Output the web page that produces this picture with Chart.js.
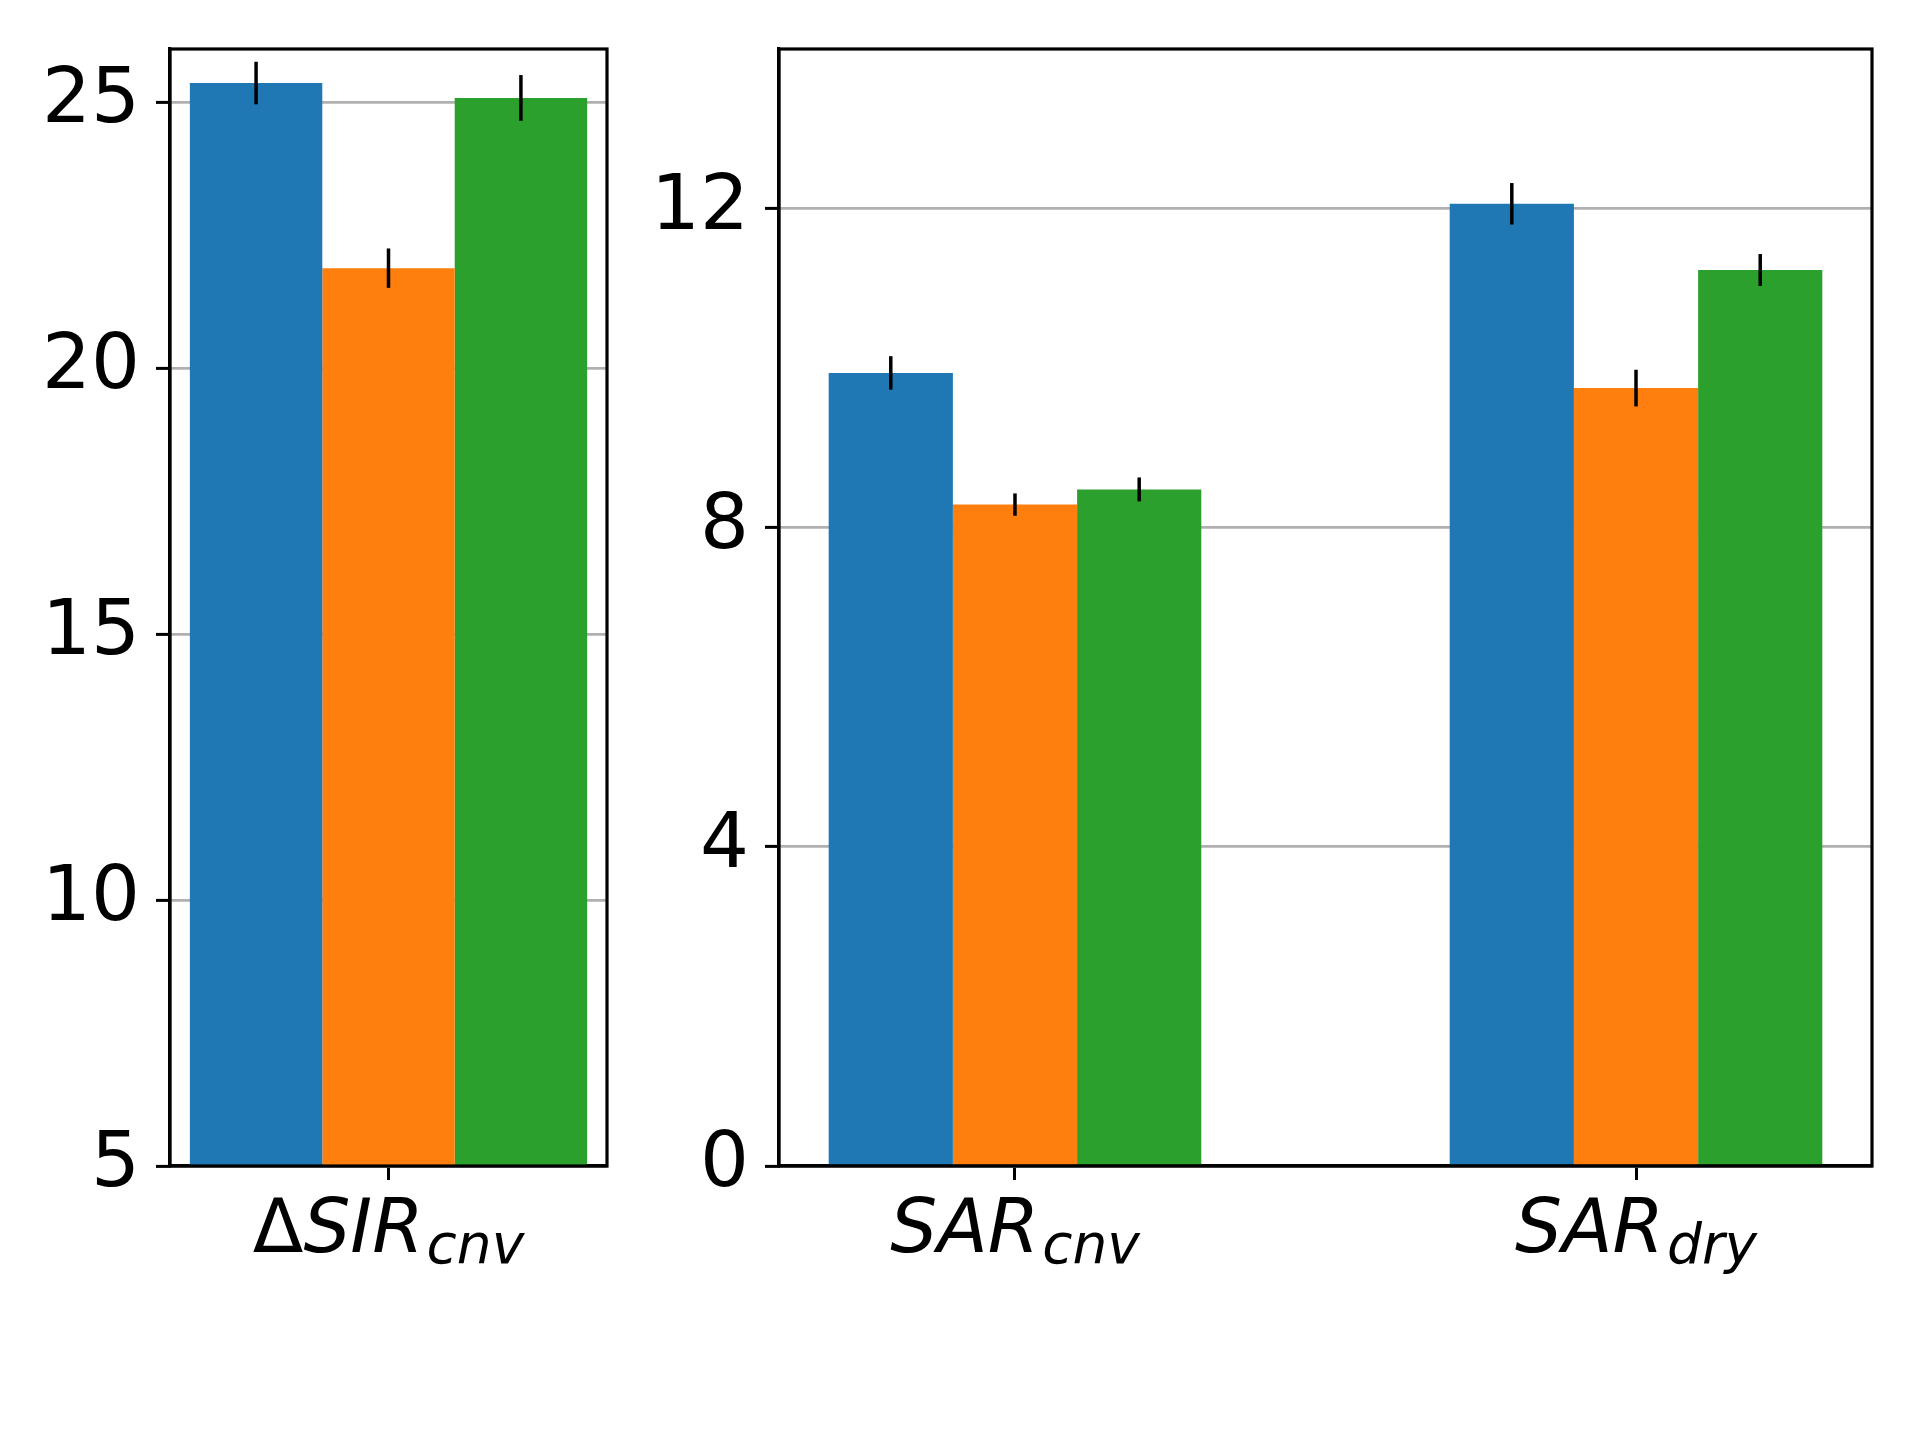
<!DOCTYPE html>
<html>
<head>
<meta charset="utf-8">
<script src="https://cdn.jsdelivr.net/npm/chart.js@4.4.1/dist/chart.umd.min.js"></script>
<style>
    html, body { margin: 0; padding: 0; background: #fff; }
    #wrap { position: relative; width: 1920px; height: 1440px; }
    .box { position: absolute; top: 0; height: 1440px; }
</style>
</head>
<body>
<div id="wrap">
    <div class="box" style="left:0; width:620px;"><canvas id="sirChart"></canvas></div>
    <div class="box" style="left:620px; width:1300px;"><canvas id="sarChart"></canvas></div>
</div>
<script>
// series (the picture has no legend, so the names are placeholders)
const seriesNames = ['Model 1', 'Model 2', 'Model 3'];
const seriesColors = ['#1f77b4', '#ff7f0e', '#2ca02c'];

// left panel: delta SIR
const sirLabelMain = ['ΔSIR'];
const sirLabelSub = ['cnv'];
const sirBlue = [25.36];
const sirOrange = [21.88];
const sirGreen = [25.08];
const sirBlueErr = [0.40];
const sirOrangeErr = [0.37];
const sirGreenErr = [0.43];
const sirTicks = [5, 10, 15, 20, 25];

// right panel: SAR
const sarLabelMain = ['SAR', 'SAR'];
const sarLabelSub = ['cnv', 'dry'];
const sarBlue = [9.94, 12.06];
const sarOrange = [8.29, 9.75];
const sarGreen = [8.48, 11.23];
const sarBlueErr = [0.21, 0.26];
const sarOrangeErr = [0.14, 0.23];
const sarGreenErr = [0.15, 0.20];
const sarTicks = [0, 4, 8, 12];

// error bars + frame, drawn on top of everything
const errorBarPlugin = {
    id: 'errorBars',
    afterDraw(chart) {
        const ctx = chart.ctx;
        const yScale = chart.scales.y;
        ctx.save();
        ctx.strokeStyle = '#000';
        ctx.lineWidth = 3.5;
        chart.data.datasets.forEach((ds, di) => {
            const meta = chart.getDatasetMeta(di);
            meta.data.forEach((bar, i) => {
                const v = ds.data[i].y;
                const e = ds.errors[i];
                ctx.beginPath();
                ctx.moveTo(bar.x, yScale.getPixelForValue(v - e));
                ctx.lineTo(bar.x, yScale.getPixelForValue(v + e));
                ctx.stroke();
            });
        });
        const a = chart.chartArea;
        ctx.lineWidth = 3.2;
        ctx.strokeRect(a.left, a.top, a.right - a.left, a.bottom - a.top);
        ctx.restore();
    }
};

// category labels with italic main part and a subscript
const mathLabelPlugin = {
    id: 'mathLabels',
    afterDraw(chart, args, opts) {
        const ctx = chart.ctx;
        const xScale = chart.scales.x;
        const baseY = chart.chartArea.bottom + 86;
        const upright = '74px "DejaVu Sans"';
        const italic = 'italic 74px "DejaVu Sans"';
        const subFont = 'italic 55px "DejaVu Sans"';
        ctx.save();
        ctx.fillStyle = '#000';
        ctx.textBaseline = 'alphabetic';
        ctx.textAlign = 'left';
        opts.main.forEach((main, i) => {
            let pre = '';
            let body = main;
            if (main.startsWith('Δ')) { pre = 'Δ'; body = main.slice(1); }
            ctx.font = upright;
            const wPre = ctx.measureText(pre).width;
            ctx.font = italic;
            const wBody = ctx.measureText(body).width;
            ctx.font = subFont;
            const wSub = ctx.measureText(opts.sub[i]).width;
            const total = wPre + wBody + 3 + wSub;
            let x = xScale.getPixelForValue(i) - total / 2;
            ctx.font = upright;
            ctx.fillText(pre, x, baseY);
            x += wPre;
            ctx.font = italic;
            ctx.fillText(body, x, baseY);
            x += wBody + 3;
            ctx.font = subFont;
            ctx.fillText(opts.sub[i], x, baseY + 11);
        });
        ctx.restore();
    }
};

function makeDatasets(values, errors, groupPct) {
    return values.map((vals, s) => ({
        label: seriesNames[s],
        data: vals.map((v, i) => ({ x: i, y: v })),
        errors: errors[s],
        backgroundColor: seriesColors[s],
        borderWidth: 0,
        categoryPercentage: groupPct,
        barPercentage: 1
    }));
}

function makePanel(canvasId, cfg) {
    return new Chart(document.getElementById(canvasId), {
        type: 'bar',
        data: { datasets: makeDatasets(cfg.values, cfg.errors, cfg.groupPct) },
        options: {
            responsive: true,
            maintainAspectRatio: false,
            animation: false,
            layout: { padding: { top: 49, right: cfg.padRight, left: 0, bottom: 0 } },
            plugins: {
                legend: { display: false },
                tooltip: { enabled: false },
                mathLabels: { main: cfg.labelMain, sub: cfg.labelSub }
            },
            scales: {
                x: {
                    type: 'linear',
                    min: cfg.xMin,
                    max: cfg.xMax,
                    offset: false,
                    afterBuildTicks: s => { s.ticks = cfg.labelMain.map((_, i) => ({ value: i })); },
                    afterFit: s => { s.height = 274; },
                    ticks: { display: false },
                    grid: {
                        offset: false,
                        drawOnChartArea: false,
                        drawTicks: true,
                        tickLength: 14,
                        tickColor: '#000',
                        tickWidth: 3
                    },
                    border: { display: true, color: '#000', width: 3.2 }
                },
                y: {
                    min: cfg.yMin,
                    max: cfg.yMax,
                    z: 1,
                    afterBuildTicks: s => { s.ticks = cfg.yTicks.map(v => ({ value: v })); },
                    afterFit: s => { s.width = cfg.yWidth; },
                    ticks: {
                        color: '#000',
                        padding: 16,
                        font: { family: 'DejaVu Sans', size: 77, lineHeight: 0.8 }
                    },
                    grid: {
                        color: '#b0b0b0',
                        lineWidth: 2.8,
                        drawTicks: true,
                        tickLength: 14,
                        tickColor: '#000',
                        tickWidth: 3
                    },
                    border: { display: true, color: '#000', width: 3.2 }
                }
            }
        },
        plugins: [errorBarPlugin, mathLabelPlugin]
    });
}

makePanel('sirChart', {
    values: [sirBlue, sirOrange, sirGreen],
    errors: [sirBlueErr, sirOrangeErr, sirGreenErr],
    labelMain: sirLabelMain,
    labelSub: sirLabelSub,
    yTicks: sirTicks,
    yMin: 5, yMax: 26,
    xMin: -0.33, xMax: 0.33,
    groupPct: 0.6 / 0.66,
    yWidth: 170,
    padRight: 13
});

makePanel('sarChart', {
    values: [sarBlue, sarOrange, sarGreen],
    errors: [sarBlueErr, sarOrangeErr, sarGreenErr],
    labelMain: sarLabelMain,
    labelSub: sarLabelSub,
    yTicks: sarTicks,
    yMin: 0, yMax: 14,
    xMin: -0.38, xMax: 1.38,
    groupPct: 0.6,
    yWidth: 159,
    padRight: 48
});
</script>
</body>
</html>
